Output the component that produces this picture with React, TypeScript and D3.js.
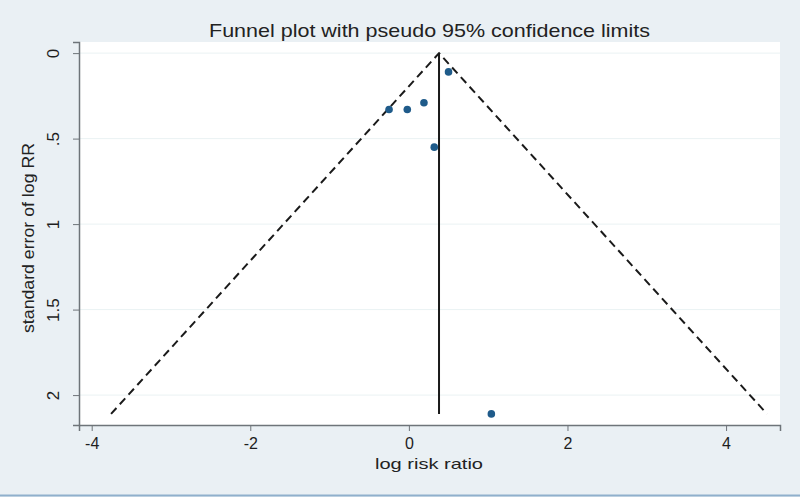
import React, { useEffect, useRef } from "react";
import * as d3 from "d3";

// study estimates: log risk ratio and its standard error
const logRR = [0.5, -0.25, -0.02, 0.19, 0.32, 1.04];
const seLogRR = [0.11, 0.33, 0.33, 0.29, 0.55, 2.11];
const pooled = 0.38;

const xTicks = [-4, -2, 0, 2, 4];
const yTicks = [0, 0.5, 1, 1.5, 2];
const yTickLabels = ["0", ".5", "1", "1.5", "2"];

const W = 800;
const H = 497;
const FONT = "Liberation Sans, Arial, sans-serif";

export default function App() {
  const ref = useRef<SVGSVGElement>(null);

  useEffect(() => {
    const svg = d3.select(ref.current);
    svg.selectAll("*").remove();

    const left = 79, right = 780, top = 42, bottom = 425;

    const x = d3.scaleLinear().domain([-4.16, 4.68]).range([left, right]);
    const y = d3.scaleLinear().domain([-0.065, 2.175]).range([top, bottom]);

    svg.append("rect").attr("width", W).attr("height", H).attr("fill", "#eaf0f4");
    svg.append("rect")
      .attr("x", left).attr("y", top)
      .attr("width", right - left).attr("height", bottom - top)
      .attr("fill", "#ffffff");
    svg.append("line")
      .attr("x1", 0).attr("x2", W).attr("y1", 495.5).attr("y2", 495.5)
      .attr("stroke", "#8fb0cc").attr("stroke-width", 2);

    // grid
    svg.append("g").selectAll("line").data(yTicks).join("line")
      .attr("x1", left).attr("x2", right)
      .attr("y1", d => y(d)).attr("y2", d => y(d))
      .attr("stroke", "#eaf2f3").attr("stroke-width", 1);

    const maxSe = d3.max(seLogRR) as number;

    // pseudo 95% limits
    const funnel = [
      [pooled - 1.96 * maxSe, maxSe],
      [pooled, 0],
      [pooled + 1.96 * maxSe, maxSe],
    ];
    svg.append("path")
      .datum(funnel)
      .attr("fill", "none")
      .attr("stroke", "#1a1a1a")
      .attr("stroke-width", 2)
      .attr("stroke-dasharray", "8,5")
      .attr("d", d3.line<number[]>().x(d => x(d[0])).y(d => y(d[1])));

    // pooled estimate
    svg.append("line")
      .attr("x1", x(pooled)).attr("x2", x(pooled))
      .attr("y1", y(0)).attr("y2", y(maxSe))
      .attr("stroke", "#1a1a1a").attr("stroke-width", 2);

    // points
    svg.append("g").selectAll("circle").data(logRR).join("circle")
      .attr("cx", d => x(d))
      .attr("cy", (d, i) => y(seLogRR[i]))
      .attr("r", 3.8)
      .attr("fill", "#1f5b8a");

    // axes
    const axisColor = "#6e7479";
    const xAxis = svg.append("g")
      .attr("transform", `translate(0,${bottom})`)
      .call(d3.axisBottom(x).tickValues(xTicks).tickSize(6).tickPadding(7));
    xAxis.select(".domain").attr("stroke", axisColor).attr("stroke-width", 1.5);
    xAxis.selectAll(".tick line").attr("stroke", axisColor);
    xAxis.selectAll("text")
      .attr("font-family", FONT)
      .attr("font-size", 16).attr("fill", "#1e1e1e")
      .text(d => String(d));

    const yAxis = svg.append("g")
      .attr("transform", `translate(${left},0)`)
      .call(d3.axisLeft(y).tickValues(yTicks).tickSize(6).tickFormat((d, i) => yTickLabels[i]));
    yAxis.select(".domain").attr("stroke", axisColor).attr("stroke-width", 1.5);
    yAxis.selectAll(".tick line").attr("stroke", axisColor);
    yAxis.selectAll("text")
      .attr("x", null).attr("dy", null)
      .attr("transform", "translate(-24,0) rotate(-90)")
      .attr("text-anchor", "middle")
      .attr("dominant-baseline", "middle")
      .attr("font-family", FONT)
      .attr("font-size", 17).attr("fill", "#1e1e1e");

    // labels
    svg.append("text")
      .attr("x", 429.5).attr("y", 37)
      .attr("text-anchor", "middle")
      .attr("font-family", FONT)
      .attr("font-size", 19).attr("fill", "#222")
      .attr("textLength", 441).attr("lengthAdjust", "spacingAndGlyphs")
      .text("Funnel plot with pseudo 95% confidence limits");

    svg.append("text")
      .attr("x", 429).attr("y", 469)
      .attr("text-anchor", "middle")
      .attr("font-family", FONT)
      .attr("font-size", 15).attr("fill", "#222")
      .attr("textLength", 108).attr("lengthAdjust", "spacingAndGlyphs")
      .text("log risk ratio");

    svg.append("text")
      .attr("transform", "translate(30,238) rotate(-90)")
      .attr("text-anchor", "middle")
      .attr("dominant-baseline", "middle")
      .attr("font-family", FONT)
      .attr("font-size", 17).attr("fill", "#222")
      .attr("textLength", 190).attr("lengthAdjust", "spacingAndGlyphs")
      .text("standard error of log RR");
  }, []);

  return (
    <svg
      ref={ref}
      width={W}
      height={H}
      style={{ position: "absolute", left: 0, top: 0, display: "block" }}
    />
  );
}
